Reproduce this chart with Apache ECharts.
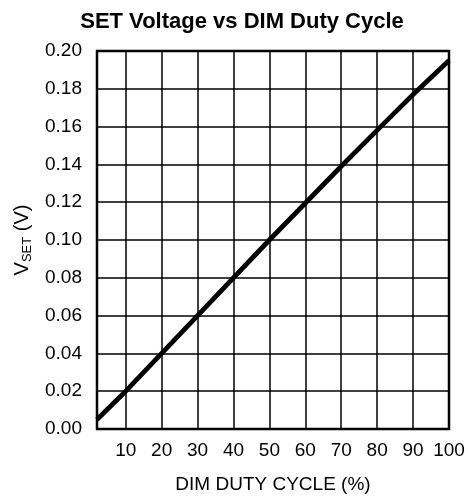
<!DOCTYPE html>
<html>
<head>
<meta charset="utf-8">
<script src="https://cdn.jsdelivr.net/npm/echarts@6/dist/echarts.min.js"></script>
<style>
html,body{margin:0;padding:0;background:#fff;}
#c{width:468px;height:499px;}
</style>
</head>
<body>
<div id="c"></div>
<script>
// Data
var dutyCycle = [2, 10, 30, 50, 70, 81, 90, 100];
var vset = [0.005, 0.020, 0.060, 0.100, 0.139, 0.160, 0.177, 0.195];
var xTicks = [10, 20, 30, 40, 50, 60, 70, 80, 90, 100];
var xGridLines = [10, 20, 30, 40, 50, 60, 70, 80, 90];

var FONT = '"Liberation Sans", Arial, sans-serif';
var chart = echarts.init(document.getElementById('c'), null, {renderer: 'canvas'});
var points = dutyCycle.map(function (d, i) { return [d, vset[i]]; });

chart.setOption({
  animation: false,
  backgroundColor: '#fff',
  title: {
    text: 'SET Voltage vs DIM Duty Cycle',
    left: 237, top: 6, textAlign: 'center',
    textStyle: {fontFamily: FONT, fontWeight: 'bold', fontSize: 22, color: '#000'}
  },
  grid: {
    left: 97, right: 19, top: 51, bottom: 69,
    show: true, borderColor: '#000', borderWidth: 2.5, backgroundColor: 'transparent'
  },
  xAxis: {
    type: 'value', min: 2, max: 100,
    name: 'DIM DUTY CYCLE (%)', nameLocation: 'middle', nameGap: 46,
    nameTextStyle: {fontFamily: FONT, fontSize: 19, color: '#000'},
    axisLine: {show: false},
    axisTick: {show: false, customValues: xGridLines},
    axisLabel: {customValues: xTicks, fontFamily: FONT, fontSize: 19, color: '#000', margin: 12},
    splitLine: {show: true, lineStyle: {color: '#000', width: 1.5}}
  },
  yAxis: {
    type: 'value', min: 0, max: 0.2, interval: 0.02,
    name: '{v|V}{sub|SET}{v| (V)}', nameLocation: 'middle', nameGap: 62, nameRotate: 90,
    nameTextStyle: {
      rich: {
        v: {fontFamily: FONT, fontSize: 20, color: '#000', lineHeight: 24},
        sub: {fontFamily: FONT, fontSize: 13, color: '#000', lineHeight: 24, padding: [10, 0, 0, 0]}
      }
    },
    axisLine: {show: false},
    axisTick: {show: false},
    axisLabel: {
      fontFamily: FONT, fontSize: 19, color: '#000', margin: 15,
      formatter: function (v) { return v.toFixed(2); }
    },
    splitLine: {show: true, lineStyle: {color: '#000', width: 1.5}}
  },
  series: [{
    type: 'line',
    data: points,
    showSymbol: false,
    lineStyle: {color: '#000', width: 4.8},
    clip: true
  }]
});
</script>
</body>
</html>
